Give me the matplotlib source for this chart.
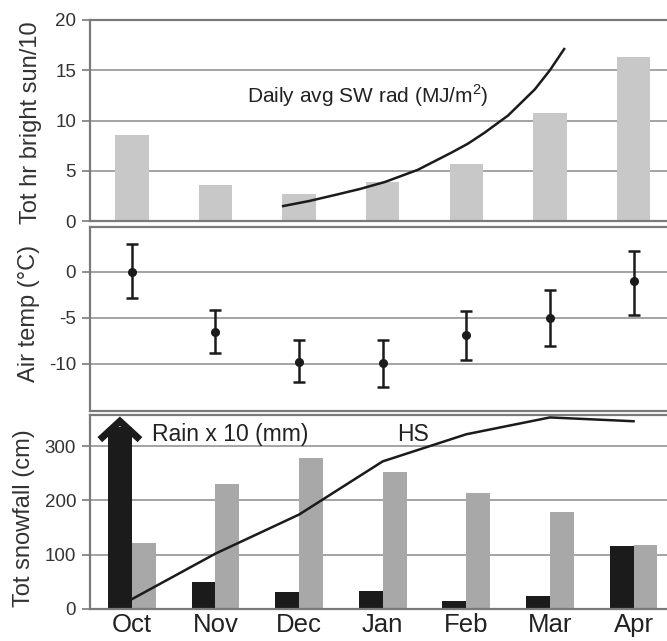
import numpy as np
import matplotlib
matplotlib.use("Agg")
import matplotlib.pyplot as plt

plt.rcParams["font.family"] = ["Liberation Sans", "DejaVu Sans"]
plt.rcParams["mathtext.fontset"] = "custom"
plt.rcParams["mathtext.rm"] = "Liberation Sans"
plt.rcParams["axes.unicode_minus"] = False

## Datos ======================================================================
months = ["Oct", "Nov", "Dec", "Jan", "Feb", "Mar", "Apr"]

# panel superior: horas de sol / 10 y radiacion SW
sun_hours_10 = [8.6, 3.6, 2.7, 3.9, 5.7, 10.7, 16.3]
sw_rad_x = [1.81, 2.12, 2.43, 2.73, 3.03, 3.42, 3.82, 4.02, 4.22, 4.50, 4.82, 5.00, 5.17]
sw_rad = [1.5, 2.0, 2.6, 3.2, 3.9, 5.1, 6.8, 7.7, 8.8, 10.5, 13.1, 15.0, 17.1]

# panel medio: temperatura del aire con barras asimetricas
air_temp = [0.0, -6.5, -9.8, -9.9, -6.9, -5.0, -1.0]
air_temp_hi = [3.0, -4.1, -7.4, -7.4, -4.2, -2.0, 2.3]
air_temp_lo = [-2.8, -8.8, -12.0, -12.5, -9.6, -8.0, -4.7]

# panel inferior: nevada total, lluvia x 10 (Oct fuera de escala) y HS
snowfall = [121, 230, 278, 252, 214, 178, 118]
rain_x10 = [420, 49, 31, 34, 15, 24, 116]
hs = [18, 102, 174, 272, 322, 353, 346]

## Estilo =====================================================================
c_light = "#c8c8c8"
c_mid = "#a8a8a8"
c_dark = "#1b1b1b"
c_grid = "#a3a3a3"
c_spine = "#7a7a7a"

x = np.arange(len(months))
left, right = 0.135, 1.01
xlim = (-0.5, 6.48)


def style_axis(ax, ticks, ylim):
    ax.set_xlim(*xlim)
    ax.set_ylim(*ylim)
    ax.set_yticks(ticks)
    ax.set_xticks([])
    ax.grid(axis="y", color=c_grid, linewidth=1.4)
    ax.set_axisbelow(True)
    for s in ax.spines.values():
        s.set_color(c_spine)
        s.set_linewidth(1.6)
    ax.tick_params(axis="y", direction="out", length=6, width=1.2,
                   color=c_spine, labelsize=13.5, pad=4, labelcolor="#333333")


fig = plt.figure(figsize=(6.67, 6.41), dpi=100)
ax1 = fig.add_axes([left, 0.655, right - left, 0.314])
ax2 = fig.add_axes([left, 0.359, right - left, 0.287])
ax3 = fig.add_axes([left, 0.050, right - left, 0.303])

## Panel superior =============================================================
ax1.bar(x, sun_hours_10, width=0.4, color=c_light, zorder=2)
ax1.plot(sw_rad_x, sw_rad, color=c_dark, linewidth=1.8, zorder=3)
ax1.text(1.38, 11.8, "Daily avg SW rad (MJ/m$^{2}$)", fontsize=15,
         color="#222222", ha="left", va="baseline")
style_axis(ax1, [0, 5, 10, 15, 20], (0, 20))
ax1.set_ylabel("Tot hr bright sun/10", fontsize=17, color="#333333")
ax1.yaxis.set_label_coords(-0.083, 0.49)

## Panel medio ================================================================
yerr = [np.array(air_temp) - np.array(air_temp_lo),
        np.array(air_temp_hi) - np.array(air_temp)]
ax2.errorbar(x, air_temp, yerr=yerr, fmt="o", color=c_dark, markersize=5.5,
             elinewidth=1.8, capsize=4.5, capthick=1.8, zorder=3)
style_axis(ax2, [0, -5, -10], (-15.1, 4.9))
ax2.set_ylabel("Air temp (°C)", fontsize=17, color="#333333")
ax2.yaxis.set_label_coords(-0.085, 0.53)

## Panel inferior =============================================================
ytop = 358
w = 0.286
rain_plot = np.minimum(rain_x10, 335)
ax3.bar(x - w / 2, rain_plot, width=w, color=c_dark, zorder=2)
ax3.bar(x + w / 2, snowfall, width=w, color=c_mid, zorder=2)
ax3.plot(x, hs, color=c_dark, linewidth=1.8, zorder=4)

# flecha para la lluvia de octubre (fuera de escala)
for i, r in enumerate(rain_x10):
    if r > ytop:
        xb = x[i] - w / 2
        ax3.plot([xb - 0.24, xb, xb + 0.24], [312, 346, 312], color=c_dark,
                 linewidth=5, solid_capstyle="butt",
                 solid_joinstyle="miter", zorder=3, clip_on=False)

ax3.text(0.24, 310, "Rain x 10 (mm)", fontsize=16.5, color="#222222",
         ha="left", va="baseline")
ax3.text(3.17, 310, "HS", fontsize=16.5, color="#222222",
         ha="left", va="baseline")
style_axis(ax3, [0, 100, 200, 300], (0, ytop))
ax3.set_xticks(x)
ax3.set_xticklabels(months, fontsize=18.5, color="#222222")
ax3.tick_params(axis="x", length=0, pad=3)
ax3.set_ylabel("Tot snowfall (cm)", fontsize=17, color="#333333")
ax3.yaxis.set_label_coords(-0.095, 0.47)

plt.savefig("out.png", dpi=100)
